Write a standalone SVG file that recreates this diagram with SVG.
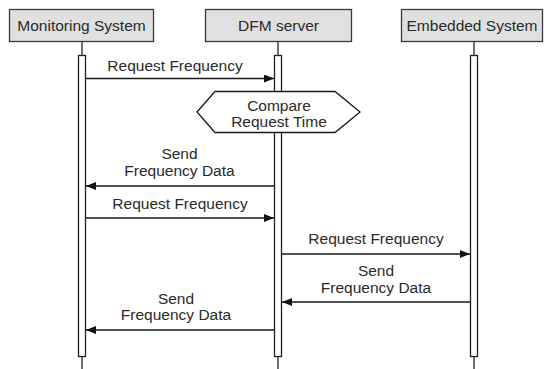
<svg xmlns="http://www.w3.org/2000/svg" width="544" height="369" viewBox="0 0 544 369">
<defs>
<style>
.hdr{fill:#e0e0e0;stroke:#3a3a3a;stroke-width:1.3}
.ll{stroke:#222;stroke-width:1.3;fill:none}
.bar{fill:#fff;stroke:#222;stroke-width:1.3}
.msg{stroke:#1a1a1a;stroke-width:1.4;fill:none}
text{font-family:"Liberation Sans",Arial,sans-serif;font-size:15.5px;fill:#2a2a2a;text-anchor:middle}
</style>
<marker id="ah" viewBox="0 0 10 8" refX="10" refY="4" markerWidth="10" markerHeight="8" markerUnits="userSpaceOnUse" orient="auto">
<path d="M0,0 L10,4 L0,8 Z" fill="#111"/>
</marker>
</defs>
<rect width="544" height="369" fill="#fff"/>
<g id="monitoring">
<rect class="hdr" x="9.5" y="9.5" width="144" height="32"/>
<text x="81.5" y="30.5">Monitoring System</text>
<line class="ll" x1="82" y1="41.5" x2="82" y2="369"/>
<rect class="bar" x="78.5" y="55.5" width="7" height="301"/>
</g>
<g id="dfm">
<rect class="hdr" x="205.5" y="9.5" width="146" height="32"/>
<text x="278.5" y="30.5">DFM server</text>
<line class="ll" x1="278" y1="41.5" x2="278" y2="369"/>
<rect class="bar" x="274.5" y="55.5" width="7" height="301"/>
</g>
<g id="embedded">
<rect class="hdr" x="401.5" y="9.5" width="141" height="32"/>
<text x="472" y="30.5">Embedded System</text>
<line class="ll" x1="474" y1="41.5" x2="474" y2="369"/>
<rect class="bar" x="470.5" y="55.5" width="7" height="301"/>
</g>
<g id="compare">
<polygon points="197,112 215,91.5 335,91.5 360,112 335,132.5 215,132.5" fill="#fff" stroke="#1a1a1a" stroke-width="1.3"/>
<text x="279" y="110.5">Compare</text>
<text x="279" y="126.5">Request Time</text>
</g>
<g id="connectors">
<line class="msg" x1="86" y1="78.5" x2="274" y2="78.5" marker-end="url(#ah)"/>
<line class="msg" x1="274" y1="186" x2="86" y2="186" marker-end="url(#ah)"/>
<line class="msg" x1="86" y1="218" x2="274" y2="218" marker-end="url(#ah)"/>
<line class="msg" x1="282" y1="254" x2="470" y2="254" marker-end="url(#ah)"/>
<line class="msg" x1="470" y1="302" x2="282" y2="302" marker-end="url(#ah)"/>
<line class="msg" x1="274" y1="330" x2="86" y2="330" marker-end="url(#ah)"/>
<text x="175" y="70.5">Request Frequency</text>
<text x="179.5" y="158.5">Send</text>
<text x="179.5" y="175.5">Frequency Data</text>
<text x="180" y="208.5">Request Frequency</text>
<text x="376" y="243.5">Request Frequency</text>
<text x="376" y="275.5">Send</text>
<text x="376" y="292.5">Frequency Data</text>
<text x="176" y="303.5">Send</text>
<text x="176" y="319.5">Frequency Data</text>
</g>
</svg>
